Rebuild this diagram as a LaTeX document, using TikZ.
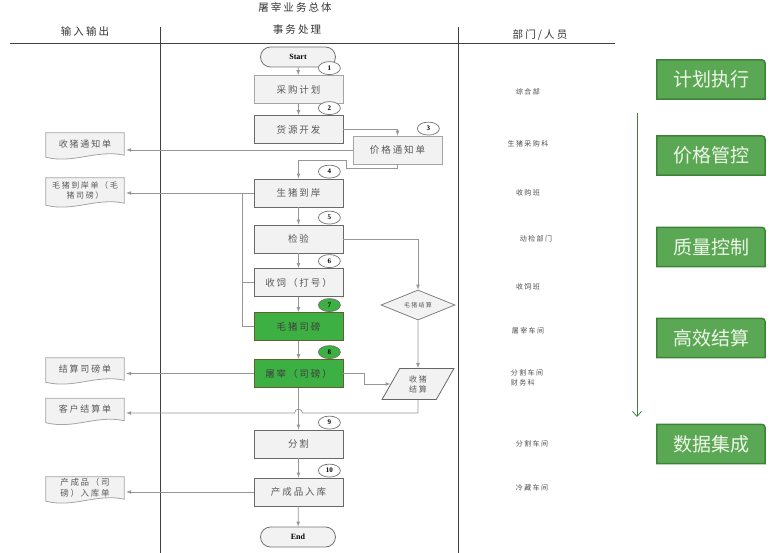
\documentclass[tikz,border=0pt]{standalone}
\usepackage{fontspec}
\setmainfont{Liberation Serif}
\newfontfamily\cjk[LetterSpace=20]{Noto Sans CJK SC}
\newfontfamily\cjkplain{Noto Sans CJK SC}
\usetikzlibrary{shapes.geometric,calc,arrows.meta,backgrounds}
\definecolor{boxfill}{RGB}{242,242,242}
\definecolor{boxline}{RGB}{105,105,105}
\definecolor{lightline}{RGB}{165,165,165}
\definecolor{linegray}{RGB}{150,150,150}
\definecolor{flowgreen}{RGB}{60,176,67}
\definecolor{greenline}{RGB}{100,95,45}
\definecolor{goalfill}{RGB}{90,168,84}
\definecolor{goalline}{RGB}{62,130,58}
\definecolor{goaltext}{RGB}{240,246,234}
\begin{document}
\begin{tikzpicture}[x=1pt, y=-1pt,
    box/.style={draw=boxline, fill=boxfill, line width=0.8pt, minimum width=89pt, minimum height=28pt, inner sep=0pt, text=black!65, font=\cjk\fontsize{9.5}{10}\selectfont},
    greenbox/.style={box, fill=flowgreen, draw=greenline, text=black!75},
    num/.style={ellipse, draw=black!55, line width=0.7pt, fill=white, minimum width=22pt, minimum height=13pt, inner sep=0pt, font=\bfseries\fontsize{7}{7}\selectfont},
    term/.style={draw=black!55, fill=boxfill, line width=0.8pt, rounded corners=10pt, minimum width=75pt, minimum height=20pt, font=\bfseries\fontsize{8}{8}\selectfont},
    doc/.style={minimum width=78pt, minimum height=22pt, inner sep=0pt, align=center, text=black!65, font=\cjk\fontsize{9}{10.5}\selectfont},
    dept/.style={text=black!70, align=left, font=\cjk\fontsize{7}{9.5}\selectfont},
    head/.style={text=black!80, font=\cjk\fontsize{10.5}{12}\selectfont},
    line/.style={draw=linegray, line width=0.7pt},
    arr/.style={line, -latex},
    goal/.style={minimum width=108pt, minimum height=39pt, inner sep=0pt, text=goaltext, font=\cjkplain\fontsize{19}{20}\selectfont}]
    \useasboundingbox (0,0) rectangle (780,553);

    % headers and columns
    \node[head] (title) at (295,7) {屠宰业务总体};
    \node[head] (hin) at (85,31) {输入输出};
    \node[head] (hproc) at (297,30) {事务处理};
    \node[head] (hdep) at (540,35) {部门/人员};
    \draw[black!75, line width=0.8pt] (10,43) -- (615,43);
    \draw[black!75, line width=0.8pt] (160,27) -- (160,553);
    \draw[black!75, line width=0.8pt] (458,27) -- (458,553);

    % process chain
    \node[term] (start) at (298,57) {Start};
    \node[box, draw=lightline] (b1) at (298.5,89.5) {采购计划};
    \node[box] (b2) at (298.5,129.5) {货源开发};
    \node[box, draw=lightline] (b3) at (397.5,150) {价格通知单};
    \node[box] (b4) at (298.5,193) {生猪到岸};
    \node[box] (b5) at (298.5,239) {检验};
    \node[box] (b6) at (298.5,282.5) {收饲（打号）};
    \node[greenbox] (b7) at (298.5,326.5) {毛猪司磅};
    \node[greenbox] (b8) at (298.5,373.5) {屠宰（司磅）};
    \node[box] (b9) at (298.5,444) {分割};
    \node[box] (b10) at (298.5,492) {产成品入库};
    \node[term] (end) at (298,537) {End};
    \foreach \i/\c in {1/white,2/white,3/white,4/white,5/white,6/white,7/flowgreen,8/flowgreen,9/white,10/white}
        \node[num, fill=\c] (n\i) at ($(b\i.north east)+(-14,-7)$) {\i};

    \node[diamond, aspect=2.5, draw=black!55, fill=boxfill, line width=0.7pt, minimum width=74pt, minimum height=30pt, inner sep=0pt, text=black!65, font=\cjk\fontsize{6}{6}\selectfont] (dia) at (418,305) {毛猪结算};
    \node[trapezium, trapezium left angle=64, trapezium right angle=116, trapezium stretches=true, draw=black!60, fill=boxfill, line width=0.8pt, minimum width=72pt, minimum height=31pt, inner sep=0pt, align=center, text=black!65, font=\cjk\fontsize{8}{10}\selectfont] (pay) at (418,384) {收猪\\结算};

    % documents
    \node[doc] (d1) at (85,144) {收猪通知单};
    \node[doc, minimum height=25pt, font=\cjk\fontsize{8}{10.5}\selectfont] (d2) at (85,190.5) {毛猪到岸单（毛\\猪司磅）};
    \node[doc] (d3) at (85,369) {结算司磅单};
    \node[doc] (d4) at (85,409.5) {客户结算单};
    \node[doc, font=\cjk\fontsize{8.5}{10.5}\selectfont] (d5) at (85,488) {产成品（司\\磅）入库单};
    \begin{scope}[on background layer]
        \foreach \d in {d1,d2,d3,d4,d5}
            \filldraw[draw=lightline, fill=boxfill, line width=0.8pt] (\d.north west) -- (\d.north east) -- (\d.south east)
                .. controls ([xshift=-28pt,yshift=6pt]\d.south east) and ([xshift=28pt,yshift=-9pt]\d.south west) .. ([yshift=-2pt]\d.south west) -- cycle;
    \end{scope}

    % connectors
    \draw[arr] (start) -- (b1);
    \draw[arr] (b1) -- (b2);
    \draw[arr] (b2.east) -| (b3.north);
    \draw[arr] (b3.south) -- ++(0,4) -- ++(-51,0) -- ++(0,-8) -| (b4.north);
    \draw[arr, shorten >=2pt] (b3.west) -- (b3.west -| d1.east);
    \draw[arr, shorten >=2pt] (b4.west) -- (b4.west -| d2.east);
    \coordinate (br) at (242,193);
    \draw[line] (b4.west -| br) |- (b7.west);
    \draw[line] (br |- b6.west) -- (b6.west);
    \draw[arr] (b4) -- (b5);
    \draw[arr] (b5) -- (b6);
    \draw[arr] (b6) -- (b7);
    \draw[arr] (b7) -- (b8);
    \draw[arr] (b5.east) -| (dia.north);
    \draw[arr] (dia.south) -- (pay.north);
    \draw[arr] (b8.east) -- ++(21,0) |- (pay.west);
    \draw[arr, shorten >=2pt] (b8.west) -- (b8.west -| d3.east);
    \draw[arr] (b8) -- (b9);
    \coordinate (hopR) at (302.5,413);
    \coordinate (hopL) at (294.5,413);
    \draw[arr, shorten >=2pt] (pay.south) |- (hopR) .. controls ([yshift=5pt]hopR) and ([yshift=5pt]hopL) .. (hopL) -- (hopL -| d4.east);
    \draw[arr] (b9) -- (b10);
    \draw[arr] (b10) -- (end);
    \draw[arr, shorten >=2pt] (b10.west) -- (b10.west -| d5.east);

    % departments
    \node[dept] (p1) at (528,92) {综合部};
    \node[dept] (p2) at (528,144) {生猪采购科};
    \node[dept] (p3) at (528,193) {收购班};
    \node[dept] (p4) at (536,239) {动检部门};
    \node[dept] (p5) at (528,287) {收饲班};
    \node[dept] (p6) at (528,331) {屠宰车间};
    \node[dept] (p7) at (527,378) {分割车间\\财务科};
    \node[dept] (p8) at (532,444) {分割车间};
    \node[dept] (p9) at (532,488) {冷藏车间};

    % goals
    \coordinate (gtop) at (637,113);
    \coordinate (gbot) at (637,417);
    \draw[goalline, line width=0.8pt, -{Straight Barb[length=5pt,width=9pt]}] (gtop) -- (gbot);
    \node[goal] (g1) at (711,79.5) {计划执行};
    \node[goal] (g2) at (711,155.5) {价格管控};
    \node[goal] (g3) at (711,247) {质量控制};
    \node[goal] (g4) at (711,338) {高效结算};
    \node[goal] (g5) at (711,444) {数据集成};
    \begin{scope}[on background layer]
        \foreach \g in {g1,g2,g3,g4,g5}
            \filldraw[draw=goalline, fill=goalfill, line width=1.5pt] (\g.south west) -- (\g.north west) -- ([xshift=-8pt]\g.north east)
                .. controls (\g.north east) .. ([yshift=-8pt]\g.north east) -- (\g.south east) -- cycle;
    \end{scope}
\end{tikzpicture}
\end{document}
